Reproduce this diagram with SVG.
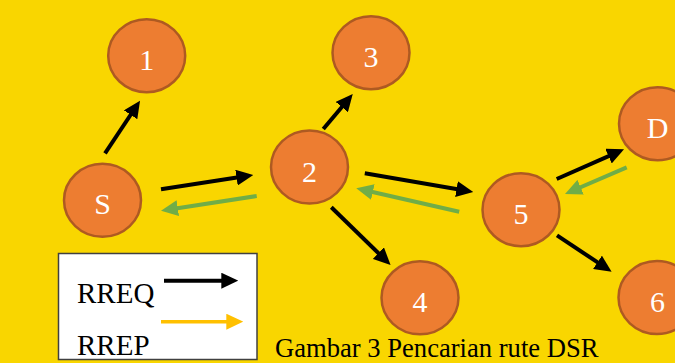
<svg xmlns="http://www.w3.org/2000/svg" width="675" height="363" viewBox="0 0 675 363">
<defs>
<style>
.node ellipse{fill:#ED7D31;stroke:#AE5A21;stroke-width:2.5}
.node text{fill:#FFFFFF;font-family:"Liberation Serif","Times New Roman",serif;font-size:30px;text-anchor:middle}
.blk{stroke:#000;stroke-width:4;fill:none;marker-end:url(#hb)}
.grn{stroke:#70AD47;stroke-width:4;fill:none;marker-end:url(#hg)}
.org{stroke:#FFC000;stroke-width:3.5;fill:none;marker-end:url(#ho)}
.lbl{font-family:"Liberation Serif","Times New Roman",serif;fill:#000}
</style>
<marker id="hb" viewBox="0 0 17 16" refX="7" refY="8" markerWidth="17" markerHeight="16" markerUnits="userSpaceOnUse" orient="auto"><path d="M0,0 L17,8 L0,16 z" fill="#000"/></marker>
<marker id="hg" viewBox="0 0 17 16" refX="7" refY="8" markerWidth="17" markerHeight="16" markerUnits="userSpaceOnUse" orient="auto"><path d="M0,0 L17,8 L0,16 z" fill="#70AD47"/></marker>
<marker id="ho" viewBox="0 0 17 16" refX="7" refY="8" markerWidth="17" markerHeight="16" markerUnits="userSpaceOnUse" orient="auto"><path d="M0,0 L17,8 L0,16 z" fill="#FFC000"/></marker>
</defs>
<rect x="0" y="0" width="675" height="363" fill="#F9D600"/>

<g id="connectors">
<line class="blk" x1="105" y1="153.3" x2="134.5" y2="109"/>
<line class="blk" x1="161" y1="189.3" x2="243.4" y2="176.5"/>
<line class="grn" x1="256.7" y1="196" x2="170.9" y2="209.2"/>
<line class="blk" x1="323.3" y1="129" x2="346.3" y2="101.7"/>
<line class="blk" x1="364.8" y1="173.3" x2="463.4" y2="190.3"/>
<line class="grn" x1="459.2" y1="211.7" x2="366" y2="190.5"/>
<line class="blk" x1="331.3" y1="207.3" x2="383.4" y2="258"/>
<line class="blk" x1="556.7" y1="179" x2="614.9" y2="153.3"/>
<line class="grn" x1="626.7" y1="167.3" x2="574.2" y2="190"/>
<line class="blk" x1="557" y1="235.3" x2="603.3" y2="266.2"/>
</g>

<g id="node-1" class="node"><ellipse cx="146.7" cy="55.7" rx="38.5" ry="36.5"/><text x="146.7" y="69.5">1</text></g>
<g id="node-3" class="node"><ellipse cx="371" cy="52.7" rx="38.5" ry="36.5"/><text x="371" y="66.5">3</text></g>
<g id="node-S" class="node"><ellipse cx="102.5" cy="200.3" rx="38.5" ry="36.5"/><text x="102.5" y="214.3">S</text></g>
<g id="node-2" class="node"><ellipse cx="309.5" cy="167" rx="38.5" ry="36.5"/><text x="309.5" y="181.5">2</text></g>
<g id="node-5" class="node"><ellipse cx="521" cy="209.7" rx="38.5" ry="36.5"/><text x="521" y="223.5">5</text></g>
<g id="node-D" class="node"><ellipse cx="657.5" cy="123.7" rx="38.5" ry="36.5"/><text x="657.5" y="138">D</text></g>
<g id="node-4" class="node"><ellipse cx="420" cy="297.8" rx="38.5" ry="36.5"/><text x="420" y="311.7">4</text></g>
<g id="node-6" class="node"><ellipse cx="657" cy="297.5" rx="38.5" ry="36.5"/><text x="657.5" y="311.7">6</text></g>

<g id="legend">
<rect x="58.5" y="253.5" width="198.5" height="106" fill="#FFFFFF" stroke="#404040" stroke-width="1.5"/>
<text class="lbl" x="77" y="302.5" font-size="29">RREQ</text>
<text class="lbl" x="77" y="354.5" font-size="29">RREP</text>
<line class="blk" x1="164" y1="280.7" x2="228.3" y2="280.7"/>
<line class="org" x1="161" y1="321.7" x2="233.3" y2="321.7"/>
</g>

<text id="caption" class="lbl" x="275" y="356.5" font-size="26.6">Gambar 3 Pencarian rute DSR</text>
</svg>
